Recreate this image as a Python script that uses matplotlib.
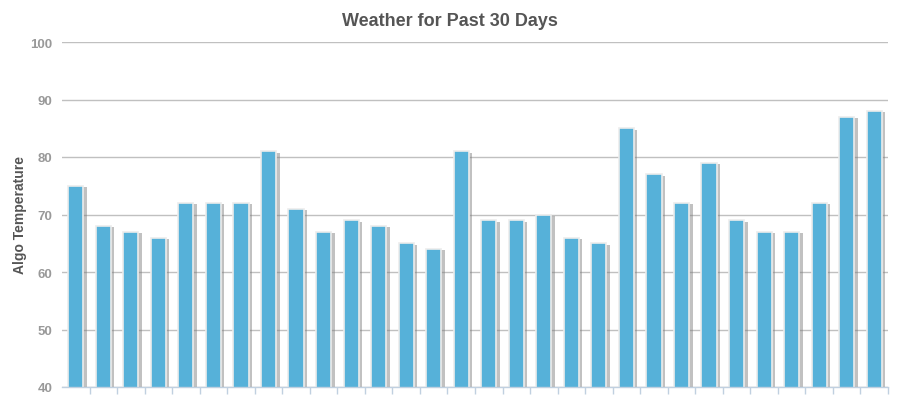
import numpy as np
import matplotlib.pyplot as plt
import matplotlib.patheffects as pe

plt.rcParams['font.family'] = ['Liberation Sans', 'DejaVu Sans']

# ------------------- Данные -------------------
days = list(range(1, 31))
temps = [75, 68, 67, 66, 72, 72, 72, 81, 71, 67,
         69, 68, 65, 64, 81, 69, 69, 70, 66, 65,
         85, 77, 72, 79, 69, 67, 67, 72, 87, 88]
y_ticks = [40, 50, 60, 70, 80, 90, 100]

bar_color = '#56B1D9'
text_color = '#555555'
tick_color = '#999999'
axis_color = '#C0D0E0'

fig = plt.figure(figsize=(9, 4.14), dpi=100)
ax = fig.add_axes([62 / 900, 1 - 388 / 414, 826 / 900, 345 / 414])

x = np.arange(len(days))
bars = ax.bar(x, temps, width=0.55, color=bar_color, edgecolor='#ececec',
              linewidth=1.2, zorder=3)
for b in bars:
    b.set_path_effects([
        pe.SimplePatchShadow(offset=(2.5, -1), shadow_rgbFace='#777777', alpha=0.45),
        pe.Normal(),
    ])

ax.set_xlim(-0.5, len(days) - 0.5)
ax.set_ylim(40, 100)
ax.set_yticks(y_ticks)
ax.yaxis.grid(True, color='#C0C0C0', linewidth=1, zorder=0)
ax.set_axisbelow(True)

ax.set_xticks(np.arange(0.5, len(days), 1.0))
ax.set_xticklabels([])
ax.tick_params(axis='x', length=5, width=1, color=axis_color, direction='out')
ax.tick_params(axis='y', length=0, pad=7, labelsize=9.5, labelcolor=tick_color)
for lbl in ax.get_yticklabels():
    lbl.set_fontweight('bold')

for side in ['top', 'right', 'left']:
    ax.spines[side].set_visible(False)
ax.spines['bottom'].set_color(axis_color)
ax.spines['bottom'].set_linewidth(1)
ax.spines['bottom'].set_zorder(4)

ax.set_ylabel('Algo Temperature', fontsize=10, fontweight='bold', color=text_color)
ax.yaxis.set_label_coords(-35 / 826, 0.5)
fig.text(0.5, 1 - 21 / 414, 'Weather for Past 30 Days', ha='center', va='center',
         fontsize=13, fontweight='bold', color=text_color)

fig.savefig('out.png', dpi=100, facecolor='white')
